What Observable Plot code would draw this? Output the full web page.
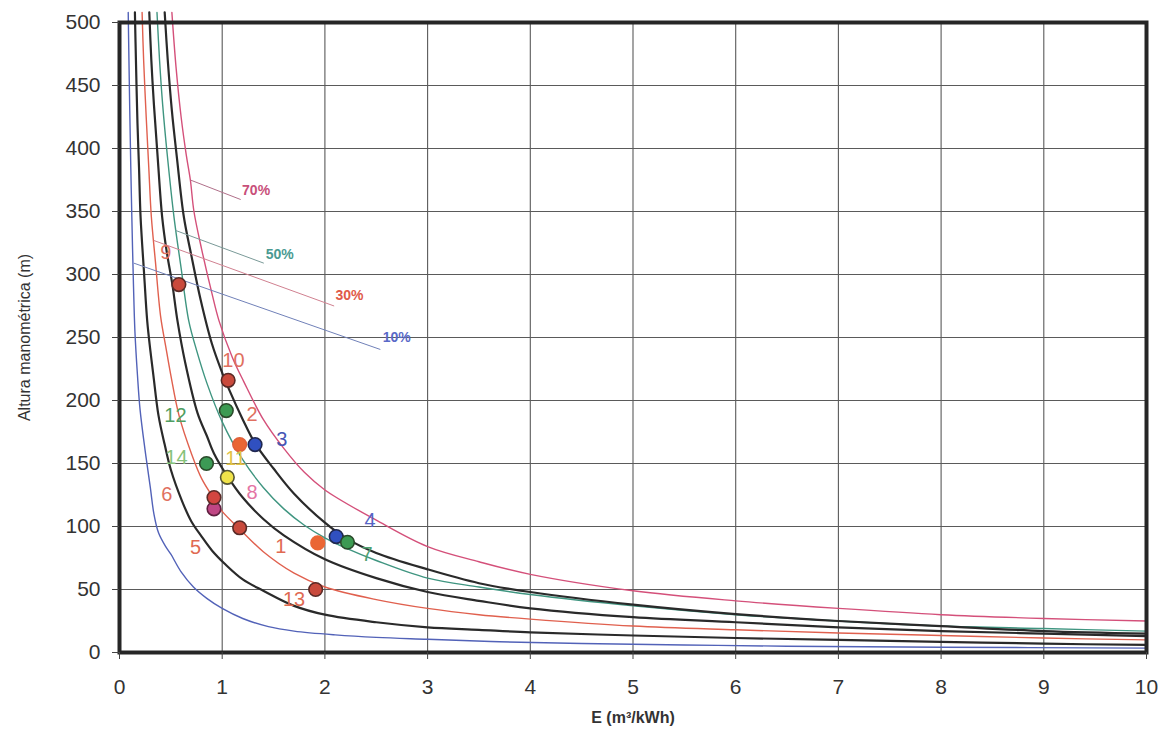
<!DOCTYPE html>
<html><head><meta charset="utf-8">
<script src="https://cdn.jsdelivr.net/npm/d3@7"></script>
<script src="https://cdn.jsdelivr.net/npm/@observablehq/plot@0.6"></script>
<style>
body{margin:0;background:#fff;}
#chart svg{display:block}
</style></head><body><div id="chart"></div>
<script>
// ---- data ----
const xTicks = [0,1,2,3,4,5,6,7,8,9,10];
const yTicks = [0,50,100,150,200,250,300,350,400,450,500];

const curveNames = ["10%","20%","30%","40%","50%","60%","70%"];
const eff10 = [[0.085,508],[0.09,480],[0.1,430],[0.11,385],[0.12,346],[0.135,295],[0.15,255],[0.175,220],[0.2,193],[0.25,160],[0.3,131],[0.335,110],[0.38,95],[0.45,84],[0.5,78],[0.6,64],[0.72,52],[0.85,43],[1.0,35],[1.2,27],[1.45,20.5],[1.7,17],[2.1,14],[2.5,12],[3.0,10.5],[3.7,8.5],[4.5,7.2],[5.5,6],[6.5,5],[8,4.2],[10,3.5]];
const eff20 = [[0.15,508],[0.16,470],[0.175,420],[0.19,385],[0.205,346],[0.24,300],[0.27,263],[0.3,240],[0.33,220],[0.38,188],[0.44,165],[0.5,145],[0.61,120],[0.7,104],[0.8,92],[0.9,81],[1.03,70],[1.2,58],[1.4,49],[1.7,37],[2.0,30],[2.5,24],[3.0,20],[3.5,18],[4,16],[5,13.5],[6,11.5],[7,10],[8,8.5],[9,7],[10,6]];
const eff30 = [[0.22,508],[0.235,470],[0.26,425],[0.285,385],[0.31,346],[0.35,310],[0.4,267],[0.45,243],[0.5,220],[0.58,188],[0.7,158],[0.8,138],[0.92,122],[1.0,112],[1.17,98],[1.4,80],[1.7,63],[2.0,52],[2.5,42],[3.0,35],[3.5,30],[4,26.5],[5,21],[6,18],[7,15.5],[8,13.5],[9,11.5],[10,10]];
const eff40 = [[0.29,508],[0.31,470],[0.335,435],[0.37,395],[0.415,346],[0.46,318],[0.515,292],[0.565,263],[0.64,230],[0.76,190],[0.85,172],[0.92,158],[1.05,140],[1.2,123],[1.4,106],[1.6,93],[2.0,74],[2.5,59],[3.0,48],[3.5,41],[4.0,35],[5,28],[6,24],[7,20],[8,17],[9,15],[10,13]];
const eff50 = [[0.365,508],[0.39,470],[0.42,435],[0.465,395],[0.53,346],[0.6,305],[0.675,263],[0.75,240],[0.85,214],[1.0,183],[1.2,153],[1.4,131],[1.6,114],[1.8,101],[2.0,91],[2.2,83],[2.5,73],[3.0,59],[3.5,52],[4.0,46],[5,37],[6,30],[7,25],[8,21],[9,19],[10,17]];
const eff60 = [[0.44,508],[0.47,470],[0.51,430],[0.56,392],[0.626,346],[0.7,315],[0.79,280],[0.9,245],[1.0,222],[1.06,210],[1.2,185],[1.32,166],[1.5,146],[1.7,126],[2.0,103],[2.2,91],[2.5,79],[3.0,66],[3.5,55],[4.0,48],[5,38],[6,30.5],[7,25],[8,21],[9,17],[10,15]];
const eff70 = [[0.51,508],[0.55,465],[0.6,425],[0.65,395],[0.69,375],[0.725,350],[0.8,320],[0.9,285],[0.97,263],[1.1,234],[1.21,215],[1.4,185],[1.6,162],[1.8,143],[2.0,129],[2.5,105],[3.0,84],[3.5,72],[4.0,62],[5.0,49],[6.0,41],[7,35],[8,30],[9,27],[10,25]];

// measured points
const ptE = [0.578,1.058,1.04,1.17,1.32,0.847,1.05,0.92,0.92,1.17,1.93,2.11,2.22,1.91];
const ptH = [292,216,192,165,165,150,139,114,123,99,87,92,87.5,50];

// point number labels
const labelText = ["9","10","12","2","3","14","11","6","8","5","1","4","7","13"];
const labelE = [0.45,1.11,0.545,1.29,1.58,0.555,1.13,0.46,1.29,0.74,1.57,2.44,2.41,1.70];
const labelH = [317,232,188,189,169,155,153.5,125.7,127,83.4,84,104.6,78,41.8];

// efficiency labels and their leader lines
const pctText = ["70%","50%","30%","10%"];
const pctE = [1.33,1.56,2.24,2.7];
const pctH = [367,316,283,250];
const leadE1 = [0.69,0.545,0.334,0.14];
const leadH1 = [375,335,327,309];
const leadE2 = [1.18,1.405,2.09,2.54];
const leadH2 = [359.5,309,275,240.5];

// ---- styles ----
const curveStyle = [
  {stroke:"#5262b8", w:1.4},
  {stroke:"#2a2a2a", w:2.2},
  {stroke:"#e0604e", w:1.4},
  {stroke:"#2a2a2a", w:2.2},
  {stroke:"#3f9580", w:1.4},
  {stroke:"#2a2a2a", w:2.2},
  {stroke:"#d4507a", w:1.4}
];
const ptFill = ["#c94a3c","#c94a3c","#3c9a52","#ea6634","#3050c0","#3c9a55","#f0e34a","#c04684","#d24640","#c94a3c","#ea6634","#3050c0","#3c9a52","#c94a3c"];
const ptStroke = ["#5a2a26","#5a2a26","#2a4a2a","#e0603a","#202850","#2a4a2a","#555533","#602040","#5a2a26","#5a2a26","#ea6634","#202850","#2a4a2a","#5a2a26"];
const labelColor = ["#e07060","#e07060","#4f9e62","#e07060","#4555b5","#86c27a","#e2c244","#e07060","#e474a4","#e06a52","#e06a52","#5565c5","#4fa070","#e06a52"];
const pctColor = ["#c8507a","#4a9a92","#e05a48","#5a6ac8"];
const leadColor = ["#b0708a","#7a9a98","#d08090","#7080b8"];

// ---- build tables ----
const series = [eff10,eff20,eff30,eff40,eff50,eff60,eff70];
const lineMarks = series.map((s,i) => Plot.line(s.map(([E,H]) => ({E,H})), {
  x:"E", y:"H", stroke: curveStyle[i].stroke, strokeWidth: curveStyle[i].w, curve:"catmull-rom"
}));
const points = ptE.map((E,i) => ({E, H: ptH[i], fill: ptFill[i], stroke: ptStroke[i]}));
const labels = labelText.map((t,i) => ({t, E: labelE[i], H: labelH[i], c: labelColor[i]}));
const pcts = pctText.map((t,i) => ({t, E: pctE[i], H: pctH[i], c: pctColor[i]}));
const leaders = leadE1.map((e,i) => ({x1:e, y1:leadH1[i], x2:leadE2[i], y2:leadH2[i], c: leadColor[i]}));

const font = "'Liberation Sans', Arial, Helvetica, sans-serif";

const chart = Plot.plot({
  width: 1173, height: 736,
  marginLeft: 119, marginRight: 27, marginTop: 22, marginBottom: 84,
  style: {fontFamily: font, background: "#fff", overflow: "visible"},
  x: {domain: [0,10]},
  y: {domain: [0,500]},
  marks: [
    Plot.gridX(xTicks, {stroke:"#5a5a5a", strokeOpacity:1, strokeWidth:1.1}),
    Plot.gridY(yTicks, {stroke:"#5a5a5a", strokeOpacity:1, strokeWidth:1.1}),
    ...lineMarks,
    Plot.link(leaders, {x1:"x1", y1:"y1", x2:"x2", y2:"y2", stroke: d => d.c, strokeWidth: 1}),
    Plot.text(pcts, {x:"E", y:"H", text:"t", fill: d => d.c, fontSize: 14, fontWeight: "bold", style: "letter-spacing:-1px"}),
    Plot.dot(points, {x:"E", y:"H", r: 6.8, fill: d => d.fill, stroke: d => d.stroke, strokeWidth: 1.6}),
    Plot.text(labels, {x:"E", y:"H", text:"t", fill: d => d.c, fontSize: 20}),
    Plot.frame({stroke:"#262626", strokeWidth: 4}),
    Plot.axisX(xTicks, {tickSize: 7, tickPadding: 20, fontSize: 21, fill:"#333", stroke:"#444", label: null, tickFormat: d => String(d)}),
    Plot.axisY(yTicks, {tickSize: 7, tickPadding: 12, fontSize: 21, fill:"#333", stroke:"#444", label: null}),
    Plot.text(["E (m³/kWh)"], {frameAnchor:"bottom", dy: 70, fontSize: 16, fontWeight:"bold", fill:"#333"}),
    Plot.text(["Altura manométrica (m)"], {frameAnchor:"left", textAnchor:"middle", dx: -95, rotate: -90, fontSize: 16, fill:"#333", style:"letter-spacing:-0.8px"})
  ]
});
document.getElementById("chart").appendChild(chart);
</script>
</body></html>
